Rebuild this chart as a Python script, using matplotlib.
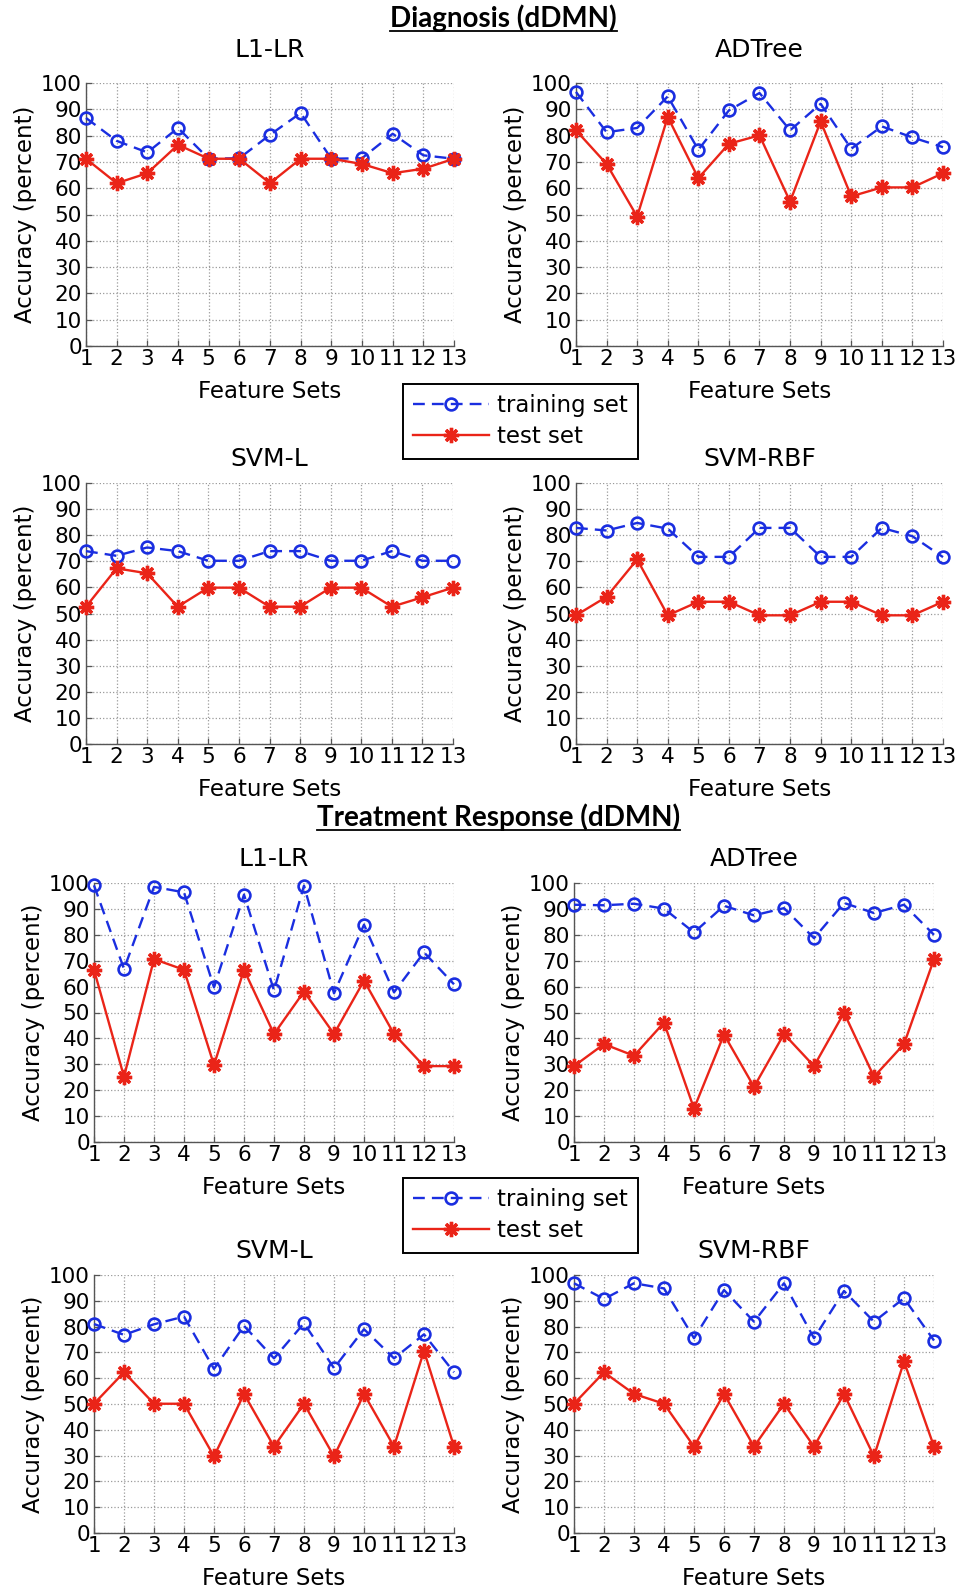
import numpy as np
import matplotlib
matplotlib.use("Agg")
import matplotlib.pyplot as plt
from matplotlib.lines import Line2D

# feature set index on the x axis
feature_sets = list(range(1, 14))
yticks = list(range(0, 101, 10))

# Diagnosis (dDMN) panels: training / test accuracy (percent)
diag_l1lr_train = [86.7, 78.0, 73.6, 82.9, 71.2, 71.4, 80.3, 88.6, 71.2, 71.4, 80.7, 72.5, 71.2]
diag_l1lr_test = [71.2, 61.9, 65.7, 76.5, 71.2, 71.2, 61.9, 71.2, 71.2, 69.2, 65.7, 67.4, 71.2]
diag_adtree_train = [96.6, 81.3, 82.9, 94.9, 74.6, 89.6, 96.2, 82.0, 92.1, 75.0, 83.5, 79.3, 75.6]
diag_adtree_test = [82.0, 69.2, 49.2, 87.1, 63.8, 76.9, 80.1, 54.9, 85.4, 56.9, 60.3, 60.3, 65.7]
diag_svml_train = [73.9, 72.1, 75.3, 73.9, 70.2, 70.2, 73.9, 73.9, 70.2, 70.2, 73.9, 70.2, 70.2]
diag_svml_test = [52.6, 67.3, 65.4, 52.6, 59.9, 59.9, 52.6, 52.6, 59.9, 59.9, 52.6, 56.2, 59.9]
diag_svmrbf_train = [82.8, 81.8, 84.7, 82.5, 71.7, 71.7, 82.8, 82.8, 71.7, 71.7, 82.8, 79.6, 71.6]
diag_svmrbf_test = [49.3, 56.4, 70.7, 49.3, 54.5, 54.5, 49.3, 49.3, 54.5, 54.5, 49.3, 49.3, 54.5]

# Treatment Response (dDMN) panels
treat_l1lr_train = [99.1, 66.8, 98.5, 96.4, 59.7, 95.5, 58.5, 99.0, 57.4, 83.9, 57.8, 73.2, 60.9]
treat_l1lr_test = [66.5, 25.2, 70.6, 66.5, 29.7, 66.5, 41.7, 58.1, 41.7, 62.3, 41.7, 29.3, 29.3]
treat_adtree_train = [91.6, 91.4, 92.0, 90.1, 80.9, 91.2, 87.5, 90.3, 78.7, 92.3, 88.4, 91.6, 80.0]
treat_adtree_test = [29.3, 37.8, 33.3, 46.1, 12.9, 41.5, 21.3, 41.7, 29.3, 49.9, 25.2, 37.8, 70.6]
treat_svml_train = [81.0, 76.8, 80.9, 83.9, 63.6, 80.3, 67.7, 81.3, 63.9, 79.0, 67.7, 77.0, 62.3]
treat_svml_test = [50.1, 62.3, 50.1, 50.1, 29.7, 53.9, 33.5, 50.1, 29.7, 53.9, 33.5, 70.6, 33.5]
treat_svmrbf_train = [96.8, 90.7, 96.8, 94.8, 75.5, 94.2, 81.9, 96.8, 75.5, 93.8, 81.9, 91.0, 74.6]
treat_svmrbf_test = [50.1, 62.3, 53.9, 50.1, 33.5, 53.9, 33.5, 50.1, 33.5, 53.9, 29.7, 66.5, 33.5]

W, H = 960, 1591
BLUE = "#1a2ee0"
RED = "#ea2418"

fig = plt.figure(figsize=(W / 100, H / 100), dpi=100)


def px_axes(x0, y0, x1, y1):
    # axes from pixel box (top-left origin)
    return fig.add_axes([x0 / W, 1 - y1 / H, (x1 - x0) / W, (y1 - y0) / H])


def panel(box, title, train, test, tpad=12):
    ax = px_axes(*box)
    ax.plot(feature_sets, train, color=BLUE, lw=1.7, dashes=(5, 3),
            marker="o", ms=8.5, mfc="none", mec=BLUE, mew=1.9, label="training set",
            clip_on=False, zorder=3)
    ax.plot(feature_sets, test, color=RED, lw=1.7, marker=(8, 2, 0), ms=11,
            mec=RED, mew=2.4, label="test set", clip_on=False, zorder=4)
    ax.set_xlim(1, 13)
    ax.set_ylim(0, 100)
    ax.set_xticks(feature_sets)
    ax.set_yticks(yticks)
    ax.grid(True, linestyle=":", color="#9a9a9a", lw=0.9)
    for s in ("top", "right"):
        ax.spines[s].set_visible(False)
    for s in ("left", "bottom"):
        ax.spines[s].set_color("#555555")
        ax.spines[s].set_linewidth(1.0)
    ax.tick_params(direction="in", length=4, width=0.9, color="#555555",
                   labelsize=15.5, pad=2)
    ax.tick_params(axis="y", pad=3)
    ax.set_xlabel("Feature Sets", fontsize=16.5, labelpad=8)
    ax.set_ylabel("Accuracy (percent)", fontsize=16.5, labelpad=3)
    ax.set_title(title, fontsize=18, pad=tpad)
    return ax


a1 = panel((86, 83, 454, 346), "L1-LR", diag_l1lr_train, diag_l1lr_test, tpad=19)
panel((576, 83, 943, 346), "ADTree", diag_adtree_train, diag_adtree_test, tpad=19)
panel((86, 483, 453, 744), "SVM-L", diag_svml_train, diag_svml_test)
panel((576, 483, 943, 744), "SVM-RBF", diag_svmrbf_train, diag_svmrbf_test)
panel((94, 883, 454, 1142), "L1-LR", treat_l1lr_train, treat_l1lr_test)
panel((574, 883, 934, 1142), "ADTree", treat_adtree_train, treat_adtree_test)
panel((94, 1275, 454, 1533), "SVM-L", treat_svml_train, treat_svml_test)
panel((574, 1275, 934, 1533), "SVM-RBF", treat_svmrbf_train, treat_svmrbf_test)

handles, labels = a1.get_legend_handles_labels()
for top in (384, 1178):
    leg = fig.legend(handles, labels, loc="upper left",
                     bbox_to_anchor=(403 / W, 1 - top / H), fontsize=16.5,
                     frameon=True, fancybox=False, edgecolor="black",
                     framealpha=1, handlelength=3.3, handletextpad=0.35,
                     borderpad=0.45, labelspacing=0.35, borderaxespad=0)
    leg.get_frame().set_linewidth(1.4)

# section headings, underlined
renderer = fig.canvas.get_renderer()
for txt, xr, yc in (("Diagnosis (dDMN)", 617, 18), ("Treatment Response (dDMN)", 680, 817)):
    t = fig.text(xr / W, 1 - yc / H, txt, ha="right", va="center",
                 fontsize=20, fontweight="bold", family="Lato")
    bb = t.get_window_extent(renderer)
    yl = bb.y0 + 1
    fig.add_artist(Line2D([bb.x0 / W, bb.x1 / W], [yl / H, yl / H],
                          color="black", lw=1.3))

fig.savefig("out.png", dpi=100)
